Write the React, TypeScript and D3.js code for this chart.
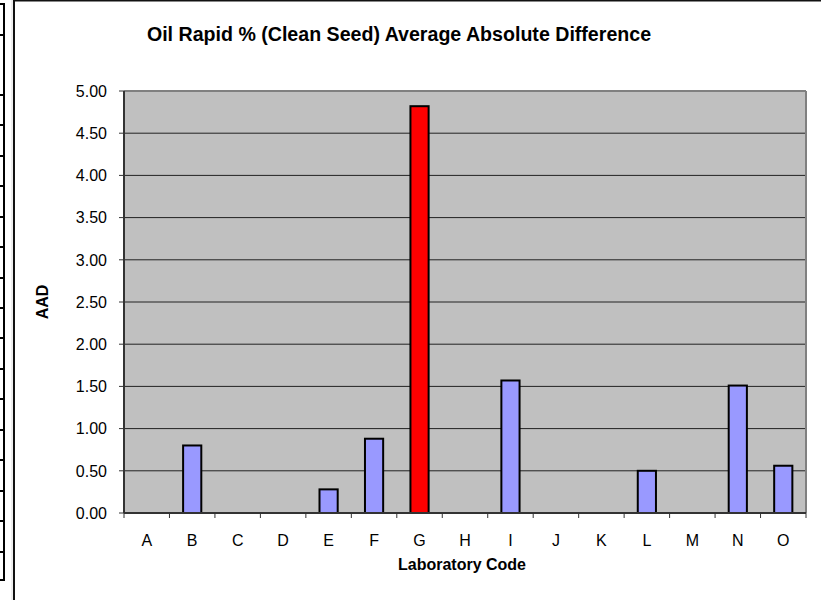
import React from "react";
import * as d3 from "d3";

const categories = ["A","B","C","D","E","F","G","H","I","J","K","L","M","N","O"];
const values = [0, 0.80, 0, 0, 0.28, 0.88, 4.82, 0, 1.57, 0, 0, 0.50, 0, 1.51, 0.56];
const highlight = ["G"];
const yTicks = [0, 0.5, 1, 1.5, 2, 2.5, 3, 3.5, 4, 4.5, 5];
const title = "Oil Rapid % (Clean Seed) Average Absolute Difference";
const xTitle = "Laboratory Code";
const yTitle = "AAD";
const sideRows = [4, 35, 95, 125, 156, 186, 217, 247, 278, 308, 338, 369, 399, 430, 460, 491, 521, 552, 580];

export default function App() {
  const W = 821, H = 600;
  const left = 124, right = 806, top = 91, bottom = 513;
  const x = d3.scaleBand<string>().domain(categories).range([left, right]).paddingInner(0).paddingOuter(0);
  const y = d3.scaleLinear().domain([0, 5]).range([bottom, top]);
  const bw = x.bandwidth() * 0.4;
  const font = "Arial, 'Liberation Sans', sans-serif";
  return (
    <svg width={W} height={H} style={{ position: "absolute", left: 0, top: 0, background: "#fff" }}>
      {/* left spreadsheet strip */}
      <line x1={4} y1={sideRows[0]} x2={4} y2={sideRows[sideRows.length - 1]} stroke="#000" strokeWidth={2} />
      {sideRows.map((r, i) => (
        <line key={i} x1={0} y1={r} x2={5} y2={r} stroke="#000" strokeWidth={2} />
      ))}
      {/* chart border */}
      <line x1={12} y1={0} x2={12} y2={H} stroke="#ddd" strokeWidth={1} />
      <line x1={14} y1={0} x2={14} y2={H} stroke="#111" strokeWidth={2} />
      <line x1={14} y1={0.5} x2={W} y2={0.5} stroke="#111" strokeWidth={2} />
      {/* plot area */}
      <rect x={left} y={top} width={right - left} height={bottom - top} fill="#C0C0C0" />
      {yTicks.map((t) => (
        <line key={t} x1={left} x2={right} y1={y(t)} y2={y(t)} stroke="#222" strokeWidth={1} />
      ))}
      <line x1={left} x2={right} y1={top} y2={top} stroke="#808080" strokeWidth={2} />
      <line x1={right} x2={right} y1={top} y2={bottom} stroke="#808080" strokeWidth={2} />
      {/* bars */}
      {categories.map((c, i) => {
        const v = values[i];
        if (v <= 0) return null;
        const cx = (x(c) as number) + x.bandwidth() / 2;
        return (
          <rect key={c} x={cx - bw / 2} y={y(v)} width={bw} height={y(0) - y(v)}
            fill={highlight.includes(c) ? "#FF0000" : "#9999FF"} stroke="#000" strokeWidth={2} />
        );
      })}
      {/* axes */}
      <line x1={left} x2={left} y1={top} y2={bottom} stroke="#333" strokeWidth={2} />
      <line x1={left} x2={right} y1={bottom} y2={bottom} stroke="#333" strokeWidth={2} />
      {yTicks.map((t) => (
        <g key={t}>
          <line x1={left - 5} x2={left} y1={y(t)} y2={y(t)} stroke="#333" strokeWidth={1} />
          <text x={107} y={y(t)} dy="0.36em" textAnchor="end" fontFamily={font} fontSize={16}>{t.toFixed(2)}</text>
        </g>
      ))}
      {categories.map((c) => (
        <line key={"t" + c} x1={x(c) as number} x2={x(c) as number} y1={bottom} y2={bottom + 5} stroke="#333" strokeWidth={1} />
      ))}
      <line x1={right} x2={right} y1={bottom} y2={bottom + 5} stroke="#333" strokeWidth={1} />
      {categories.map((c) => (
        <text key={"l" + c} x={(x(c) as number) + x.bandwidth() / 2} y={546} textAnchor="middle" fontFamily={font} fontSize={16}>{c}</text>
      ))}
      <text x={(left + right) / 2 - 3} y={570} textAnchor="middle" fontFamily={font} fontSize={16} fontWeight="bold">{xTitle}</text>
      <text transform={`translate(48,${(top + bottom) / 2}) rotate(-90)`} textAnchor="middle" fontFamily={font} fontSize={16} fontWeight="bold">{yTitle}</text>
      <text x={399} y={41} textAnchor="middle" fontFamily={font} fontSize={19.6} fontWeight="bold">{title}</text>
    </svg>
  );
}
